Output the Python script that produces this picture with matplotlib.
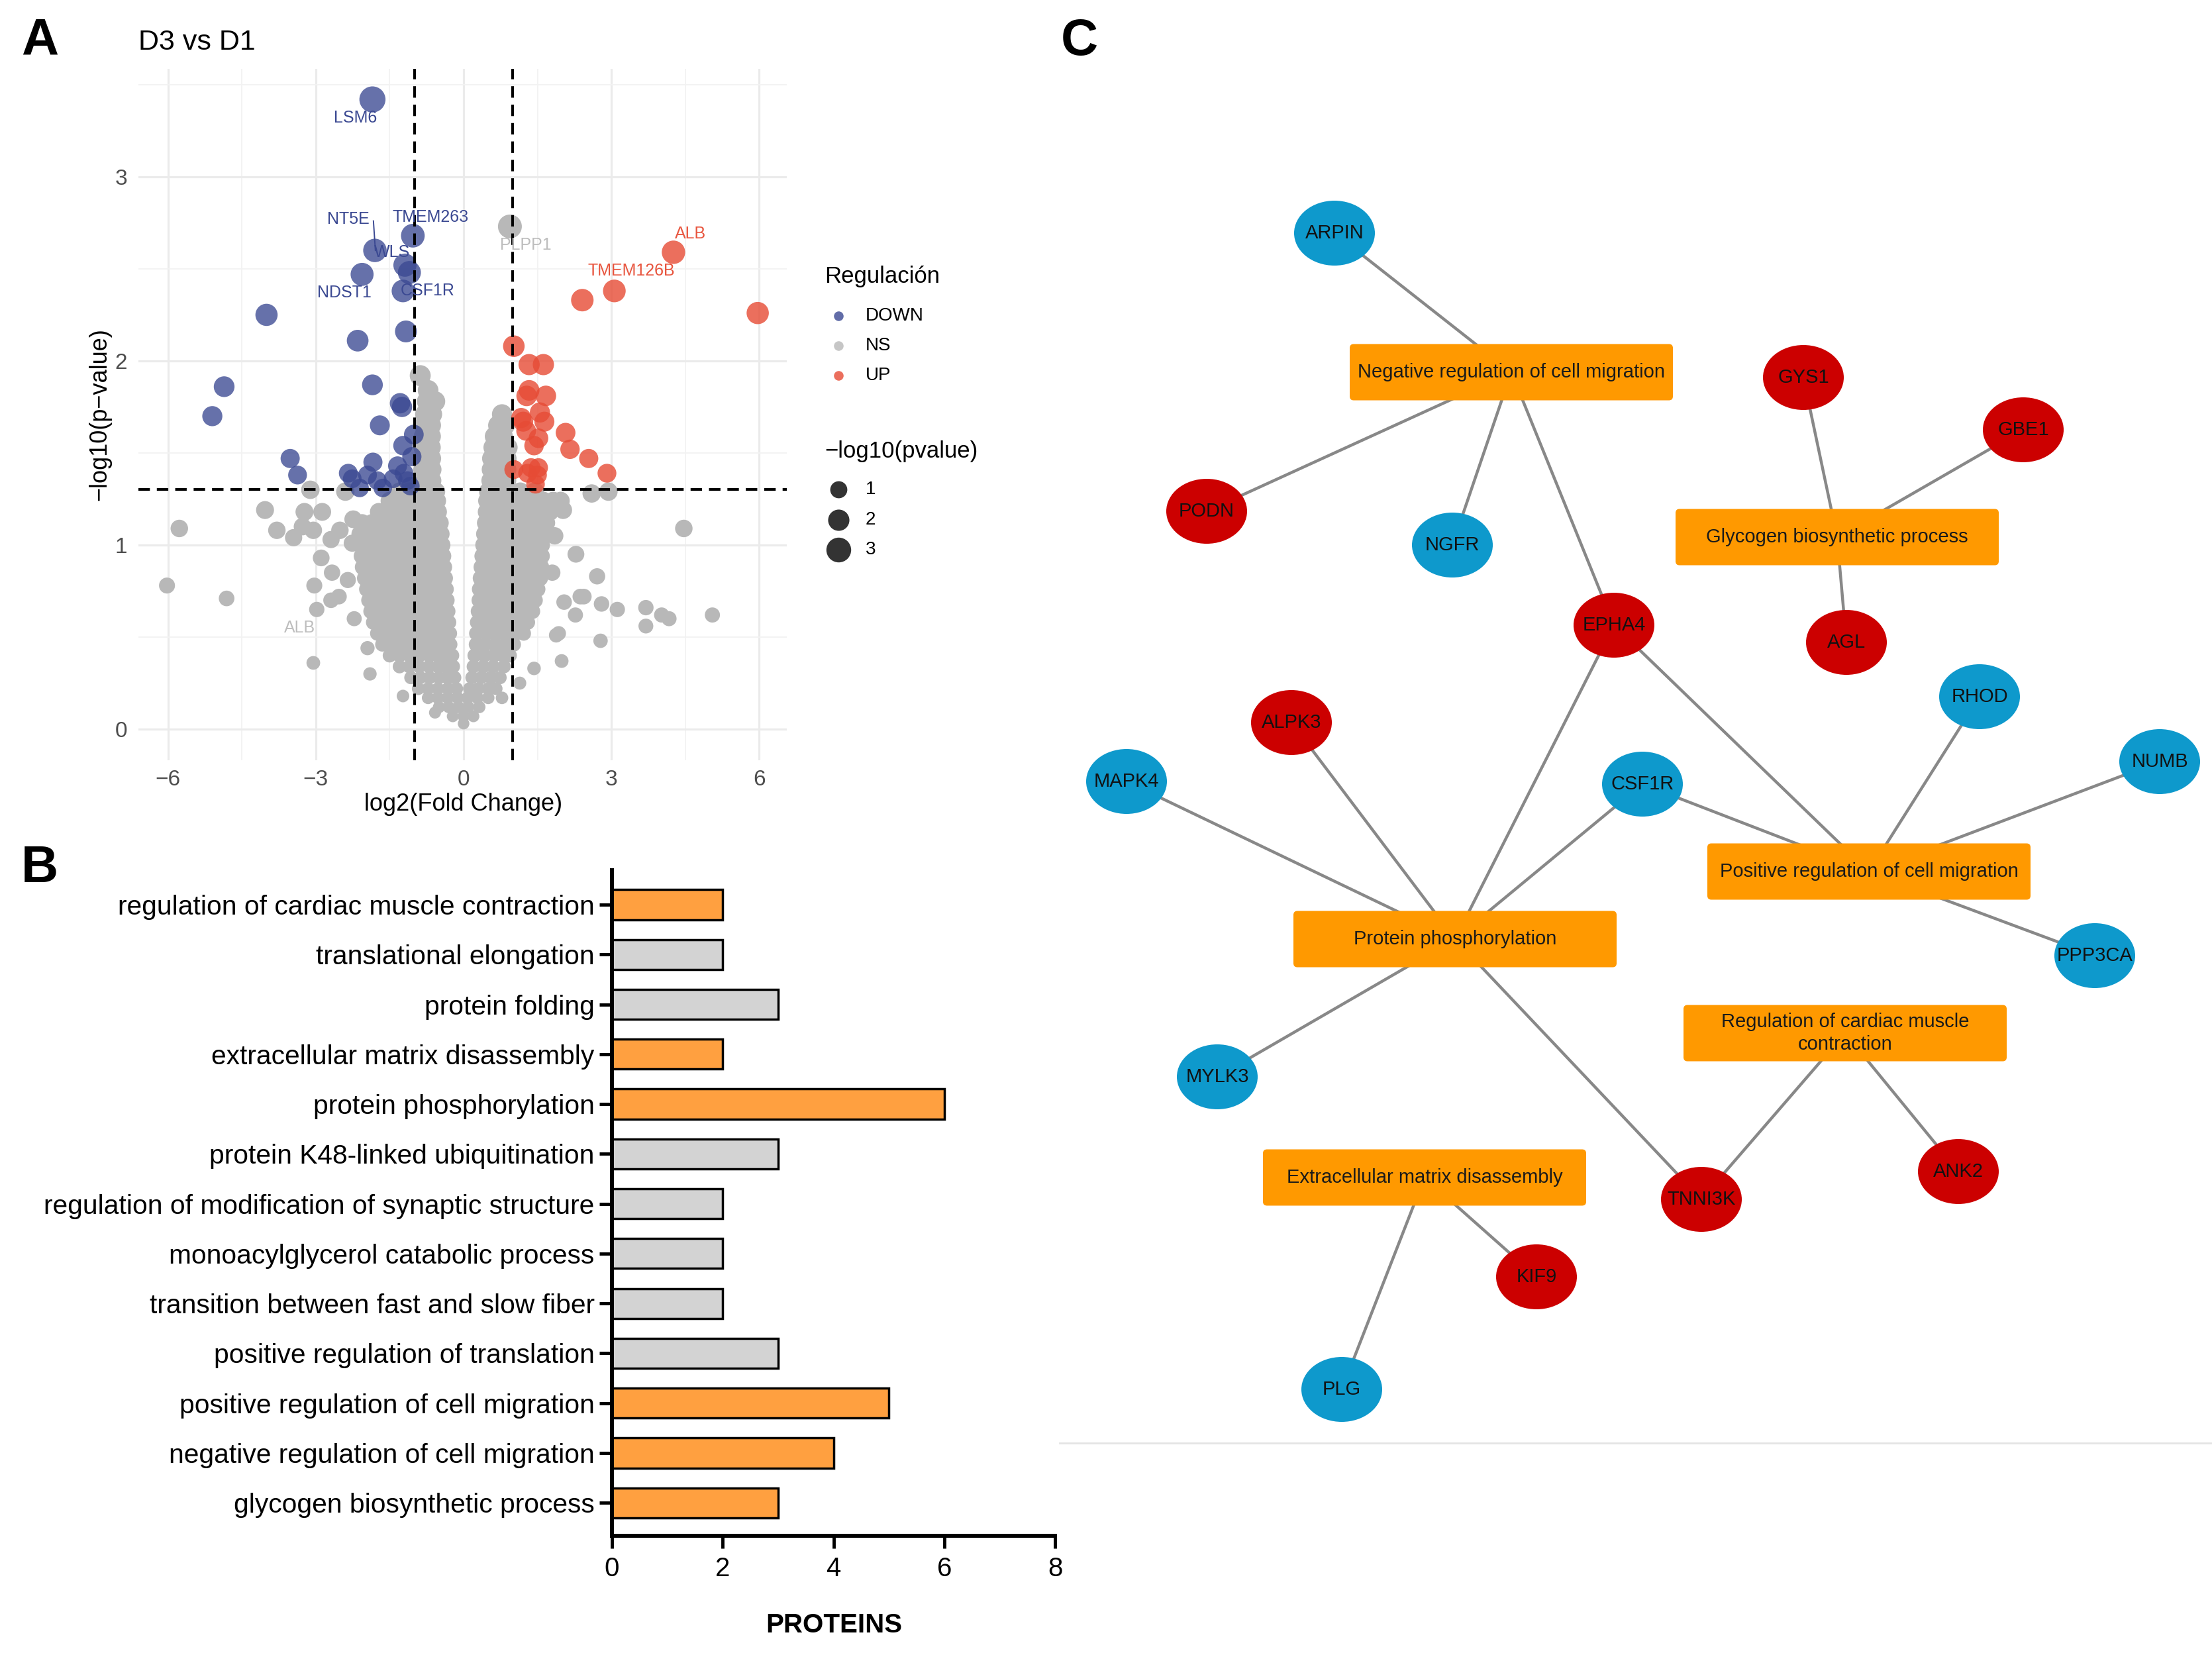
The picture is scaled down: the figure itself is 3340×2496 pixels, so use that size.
import numpy as np
import matplotlib
matplotlib.use("Agg")
import matplotlib.pyplot as plt
from matplotlib.patches import Ellipse, FancyBboxPatch

plt.rcParams['font.family'] = ['Liberation Sans', 'DejaVu Sans']

# ------------------------------------------------------------------ data: volcano
DOWN_X = [-1.85, -1.03, -1.80, -1.19, -1.10, -2.06, -1.23, -4.00, -1.17, -2.15,
          -4.86, -5.10, -1.85, -1.29, -1.25, -1.70, -1.01, -1.23, -1.05, -3.52,
          -3.37, -1.84, -2.34, -2.26, -1.95, -1.34, -1.21, -1.14, -1.75, -2.11,
          -1.64, -1.43, -1.08]
DOWN_Y = [3.42, 2.68, 2.60, 2.52, 2.48, 2.47, 2.38, 2.25, 2.16, 2.11,
          1.86, 1.70, 1.87, 1.77, 1.75, 1.65, 1.60, 1.54, 1.48, 1.47,
          1.38, 1.45, 1.39, 1.36, 1.38, 1.43, 1.39, 1.35, 1.35, 1.31,
          1.31, 1.36, 1.32]

UP_X = [4.26, 3.06, 2.41, 5.97, 1.02, 1.33, 1.62, 1.33, 1.28, 1.67, 1.55, 1.17,
        1.21, 1.64, 1.27, 1.52, 1.43, 2.07, 2.16, 2.54, 2.91, 1.37, 1.52, 1.30,
        1.50, 1.46, 1.02]
UP_Y = [2.59, 2.38, 2.33, 2.26, 2.08, 1.98, 1.98, 1.84, 1.81, 1.81, 1.72, 1.69,
        1.67, 1.67, 1.62, 1.58, 1.54, 1.61, 1.52, 1.47, 1.39, 1.42, 1.42, 1.39,
        1.38, 1.33, 1.41]

# isolated non-significant proteins
NS_SCATTER_X = [-6.02, -5.77, -4.81, -4.03, -3.79, -3.45, -3.27, -3.23, -3.11, -3.05,
                -2.87, -2.69, -2.51, -2.40, -2.26, -2.24, -2.89, -2.67, -3.03, -2.98,
                -2.69, -2.53, -3.05, -2.35, -2.22, -1.95, -1.90, -1.23, -0.58,
                4.47, 2.28, 2.71, 2.44, 2.04, 2.27, 2.80, 3.12, 3.70, 3.70, 4.02, 4.17,
                5.05, 2.78, 1.99, 1.88, 2.94, 2.60, 1.97, 2.02, 1.93, 2.37, 0.78, 1.14,
                1.43, 1.80, 1.85, 0.94]
NS_SCATTER_Y = [0.78, 1.09, 0.71, 1.19, 1.08, 1.04, 1.10, 1.18, 1.30, 1.08,
                1.18, 1.03, 1.08, 1.29, 1.01, 1.14, 0.93, 0.85, 0.78, 0.65,
                0.70, 0.72, 0.36, 0.81, 0.60, 0.44, 0.30, 0.18, 0.09,
                1.09, 0.95, 0.83, 0.72, 0.69, 0.62, 0.68, 0.65, 0.66, 0.56, 0.62, 0.60,
                0.62, 0.48, 0.37, 0.51, 1.29, 1.28, 1.24, 1.19, 0.52, 0.72, 0.17, 0.25,
                0.33, 0.85, 1.05, 2.73]

# dense V-shaped cloud of non-significant proteins, read row by row (y, [x ...])
NS_ROWS = [
    (0.03, [0.0]),
    (0.07, [-0.22, 0.0, 0.2]),
    (0.12, [-0.5, -0.3, -0.1, 0.1, 0.32]),
    (0.17, [-0.72, -0.52, -0.32, -0.12, 0.08, 0.28, 0.5]),
    (0.22, [-0.92, -0.72, -0.52, -0.32, -0.14, 0.12, 0.3, 0.5, 0.66]),
    (0.28, [-1.07, -0.88, -0.69, -0.5, -0.33, -0.18, 0.17, 0.36, 0.55, 0.74]),
    (0.34, [-1.3, -1.1, -0.9, -0.7, -0.52, -0.36, -0.21, 0.2, 0.4, 0.6, 0.82]),
    (0.40, [-1.5, -1.3, -1.1, -0.9, -0.7, -0.52, -0.37, -0.23, 0.22, 0.42, 0.62, 0.8, 0.94]),
    (0.46, [-1.65, -1.45, -1.25, -1.05, -0.85, -0.65, -0.47, -0.27, 0.25, 0.44, 0.64, 0.84, 1.02]),
    (0.52, [-1.75, -1.55, -1.35, -1.15, -0.95, -0.75, -0.55, -0.4, -0.28, 0.26, 0.46, 0.66, 0.86, 1.06, 1.22]),
    (0.58, [-1.83, -1.63, -1.43, -1.23, -1.03, -0.83, -0.63, -0.45, -0.3, 0.28, 0.48, 0.68, 0.88, 1.08, 1.3]),
    (0.64, [-1.88, -1.68, -1.48, -1.28, -1.08, -0.88, -0.68, -0.5, -0.32, 0.3, 0.5, 0.7, 0.9, 1.1, 1.3, 1.4]),
    (0.70, [-1.92, -1.72, -1.52, -1.32, -1.12, -0.92, -0.72, -0.52, -0.34, 0.32, 0.52, 0.72, 0.92, 1.12, 1.32, 1.45]),
    (0.76, [-1.96, -1.76, -1.56, -1.36, -1.16, -0.96, -0.76, -0.56, -0.36, 0.33, 0.53, 0.73, 0.93, 1.13, 1.33, 1.5]),
    (0.82, [-2.0, -1.8, -1.6, -1.4, -1.2, -1.0, -0.8, -0.6, -0.38, 0.35, 0.55, 0.75, 0.95, 1.15, 1.35, 1.55]),
    (0.88, [-2.04, -1.84, -1.64, -1.44, -1.24, -1.04, -0.84, -0.64, -0.4, 0.37, 0.57, 0.77, 0.97, 1.17, 1.37, 1.57]),
    (0.94, [-2.06, -1.86, -1.66, -1.46, -1.26, -1.06, -0.86, -0.64, -0.42, 0.39, 0.59, 0.79, 0.99, 1.19, 1.39, 1.58]),
    (1.00, [-2.08, -1.88, -1.68, -1.48, -1.28, -1.08, -0.88, -0.66, -0.44, 0.41, 0.61, 0.81, 1.01, 1.21, 1.41, 1.58]),
    (1.06, [-2.1, -1.9, -1.7, -1.5, -1.3, -1.1, -0.9, -0.68, -0.46, 0.43, 0.63, 0.83, 1.03, 1.23, 1.43, 1.62]),
    (1.12, [-2.06, -1.86, -1.66, -1.46, -1.26, -1.06, -0.86, -0.66, -0.48, 0.45, 0.65, 0.85, 1.05, 1.25, 1.45, 1.68]),
    (1.18, [-1.72, -1.52, -1.32, -1.12, -0.92, -0.72, -0.52, 0.47, 0.67, 0.87, 1.07, 1.27, 1.5, 1.75]),
    (1.24, [-1.5, -1.3, -1.1, -0.9, -0.72, -0.54, 0.48, 0.68, 0.88, 1.1, 1.35, 1.62, 1.82]),
    (1.29, [-1.3, -1.1, -0.9, -0.72, -0.56, 0.5, 0.7, 0.9, 1.15, 1.45]),
    (1.35, [-0.84, -0.64, 0.55, 0.72, 0.88]),
    (1.41, [-0.83, -0.64, 0.56, 0.72, 0.88]),
    (1.47, [-0.82, -0.65, 0.57, 0.73, 0.88]),
    (1.53, [-0.82, -0.66, 0.6, 0.76, 0.9]),
    (1.59, [-0.81, -0.66, 0.63, 0.8]),
    (1.65, [-0.8, -0.66, 0.7, 0.84]),
    (1.71, [-0.78, -0.64, 0.78]),
    (1.78, [-0.74, -0.58]),
    (1.84, [-0.72]),
    (1.92, [-0.88]),
]

GENE_LABELS = [  # (text, x, y, group)
    ("LSM6", -2.20, 3.32, "DOWN"),
    ("NT5E", -2.34, 2.77, "DOWN"),
    ("TMEM263", -0.67, 2.78, "DOWN"),
    ("WLS", -1.45, 2.59, "DOWN"),
    ("NDST1", -2.42, 2.37, "DOWN"),
    ("CSF1R", -0.73, 2.38, "DOWN"),
    ("PLPP1", 1.26, 2.63, "NS"),
    ("ALB", 4.61, 2.69, "UP"),
    ("TMEM126B", 3.41, 2.49, "UP"),
    ("ALB", -3.33, 0.55, "NS"),
]
NT5E_SEGMENT_X = [-1.83, -1.79]
NT5E_SEGMENT_Y = [2.76, 2.60]

X_TICKS = [-6, -3, 0, 3, 6]
Y_TICKS = [0, 1, 2, 3]
FC_CUT = 1.0
P_CUT = 1.301

# ------------------------------------------------------------------ data: bar chart
GO_TERMS = ["regulation of cardiac muscle contraction", "translational elongation",
            "protein folding", "extracellular matrix disassembly",
            "protein phosphorylation", "protein K48-linked ubiquitination",
            "regulation of modification of synaptic structure",
            "monoacylglycerol catabolic process", "transition between fast and slow fiber",
            "positive regulation of translation", "positive regulation of cell migration",
            "negative regulation of cell migration", "glycogen biosynthetic process"]
GO_COUNTS = [2, 2, 3, 2, 6, 3, 2, 2, 2, 3, 5, 4, 3]
GO_HIGHLIGHT = [True, False, False, True, True, False, False, False, False, False,
                True, True, True]
BAR_TICKS = [0, 2, 4, 6, 8]

# ------------------------------------------------------------------ data: network
GENE_NODES = {  # name: (x, y, regulation) in layout pixels
    "ARPIN": (2015, 352, "down"), "GYS1": (2723, 570, "up"), "GBE1": (3055, 649, "up"),
    "PODN": (1822, 772, "up"), "NGFR": (2193, 823, "down"), "EPHA4": (2437, 944, "up"),
    "AGL": (2788, 970, "up"), "RHOD": (2989, 1052, "down"), "ALPK3": (1950, 1091, "up"),
    "NUMB": (3261, 1150, "down"), "MAPK4": (1701, 1180, "down"),
    "CSF1R": (2480, 1184, "down"), "PPP3CA": (3163, 1443, "down"),
    "MYLK3": (1838, 1626, "down"), "ANK2": (2957, 1769, "up"),
    "TNNI3K": (2569, 1811, "up"), "KIF9": (2320, 1928, "up"), "PLG": (2026, 2098, "down"),
}
TERM_NODES = {
    "NEG": (2282, 562, "Negative regulation of cell migration"),
    "GLY": (2774, 811, "Glycogen biosynthetic process"),
    "POS": (2822, 1316, "Positive regulation of cell migration"),
    "PHOS": (2197, 1418, "Protein phosphorylation"),
    "CARD": (2786, 1560, "Regulation of cardiac muscle\ncontraction"),
    "ECM": (2151, 1778, "Extracellular matrix disassembly"),
}
EDGES = [("ARPIN", "NEG"), ("PODN", "NEG"), ("NGFR", "NEG"), ("EPHA4", "NEG"),
         ("GYS1", "GLY"), ("GBE1", "GLY"), ("AGL", "GLY"),
         ("EPHA4", "PHOS"), ("ALPK3", "PHOS"), ("MAPK4", "PHOS"), ("CSF1R", "PHOS"),
         ("MYLK3", "PHOS"), ("TNNI3K", "PHOS"),
         ("EPHA4", "POS"), ("CSF1R", "POS"), ("RHOD", "POS"), ("NUMB", "POS"),
         ("PPP3CA", "POS"), ("TNNI3K", "CARD"), ("ANK2", "CARD"),
         ("KIF9", "ECM"), ("PLG", "ECM")]

# ------------------------------------------------------------------ styles
W, H, DPI = 3340, 2496, 100
COL = {"DOWN": "#3B4992", "NS": "#B8B8B8", "UP": "#E64B35"}
TXT_COL = {"DOWN": "#3B4992", "NS": "#BDBDBD", "UP": "#E8553E"}
NODE_COL = {"up": "#CC0000", "down": "#0E99CC"}
BOX_COL = "#FF9900"
BAR_ORANGE, BAR_GRAY = "#FFA040", "#D3D3D3"


def area(v):
    """ggplot-like size scale: pixel radius^2 linear in -log10(p)."""
    r2 = 74.0 + 92.0 * np.asarray(v, dtype=float)
    return (2 * 0.72) ** 2 * r2


fig = plt.figure(figsize=(W / DPI, H / DPI), dpi=DPI)
fig.patch.set_facecolor("white")


def px_axes(x0, y0, x1, y1):
    return fig.add_axes([x0 / W, 1 - y1 / H, (x1 - x0) / W, (y1 - y0) / H])


# overlay in pixel units for panel letters, legend, network
ov = fig.add_axes([0, 0, 1, 1])
ov.set_xlim(0, W)
ov.set_ylim(H, 0)
ov.axis("off")

# ------------------------------------------------------------------ panel A
ax = px_axes(209, 104, 1188, 1148)
ax.set_xlim(-6.6, 6.56)
ax.set_ylim(-0.169, 3.586)
for s in ax.spines.values():
    s.set_visible(False)
ax.set_xticks(X_TICKS)
ax.set_yticks(Y_TICKS)
ax.set_xticks([-4.5, -1.5, 1.5, 4.5], minor=True)
ax.set_yticks([0.5, 1.5, 2.5, 3.5], minor=True)
ax.grid(which="major", color="#EBEBEB", lw=2.3)
ax.grid(which="minor", color="#F2F2F2", lw=1.3)
ax.set_axisbelow(True)
ax.tick_params(which="both", length=0)
ax.tick_params(axis="x", labelsize=24, labelcolor="#4D4D4D", pad=10)
ax.tick_params(axis="y", labelsize=24, labelcolor="#4D4D4D", pad=12)

ns_x = list(NS_SCATTER_X)
ns_y = list(NS_SCATTER_Y)
for yy, xs in NS_ROWS:
    ns_x += xs
    ns_y += [yy] * len(xs)
ax.scatter(ns_x, ns_y, s=area(ns_y), color=COL["NS"], linewidths=0, zorder=2)
ax.scatter(DOWN_X, DOWN_Y, s=area(DOWN_Y), color=COL["DOWN"], alpha=0.78, linewidths=0, zorder=3)
ax.scatter(UP_X, UP_Y, s=area(UP_Y), color=COL["UP"], alpha=0.8, linewidths=0, zorder=3)

dash = (0, (4.3, 2.6))
ax.axvline(-FC_CUT, color="black", lw=2.9, ls=dash, zorder=4)
ax.axvline(FC_CUT, color="black", lw=2.9, ls=dash, zorder=4)
ax.axhline(P_CUT, color="black", lw=2.9, ls=dash, zorder=4)

for txt, x, y, g in GENE_LABELS:
    ax.text(x, y, txt, color=TXT_COL[g], fontsize=18, ha="center", va="center", zorder=5)
ax.plot(NT5E_SEGMENT_X, NT5E_SEGMENT_Y, color=COL["DOWN"], lw=1.4, zorder=5)

ov.text(60, 62, "A", fontsize=56, fontweight="bold", ha="center", va="center")
ov.text(209, 64, "D3 vs D1", fontsize=31, ha="left", va="center")
ov.text(700, 1215, "log2(Fold Change)", fontsize=26, ha="center", va="center")
ov.text(151, 626, "\u2212log10(p\u2212value)", fontsize=26, ha="center", va="center",
        rotation=90)

# legend
ov.text(1245, 418, "Regulación", fontsize=25, ha="left", va="center")
for i, g in enumerate(["DOWN", "NS", "UP"]):
    yy = 477 + 45 * i
    ov.scatter([1266], [yy], s=110, color=COL[g], alpha=0.8, linewidths=0)
    ov.text(1307, yy, g, fontsize=20, ha="left", va="center")
ov.text(1245, 682, "\u2212log10(pvalue)", fontsize=25, ha="left", va="center")
for i, v in enumerate([1, 2, 3]):
    yy = [739, 785, 830][i]
    ov.scatter([1266], [yy], s=area(v), color="#333333", linewidths=0)
    ov.text(1307, yy, str(v), fontsize=20, ha="left", va="center")

# ------------------------------------------------------------------ panel B
axb = px_axes(924, 1314, 1593, 2319)
pos = np.arange(len(GO_TERMS))
colors = [BAR_ORANGE if h else BAR_GRAY for h in GO_HIGHLIGHT]
axb.barh(pos, GO_COUNTS, height=0.6, color=colors, edgecolor="black", linewidth=2.5,
         zorder=2)
axb.set_xlim(0, 8)
axb.set_ylim(len(GO_TERMS) - 0.34, -0.69)
axb.set_yticks(pos)
axb.set_yticklabels(GO_TERMS, fontsize=29.3)
axb.set_xticks(BAR_TICKS)
axb.tick_params(axis="y", length=14, width=3.5, pad=5)
axb.tick_params(axis="x", length=14, width=3.5, pad=8, labelsize=29)
for side in ["top", "right"]:
    axb.spines[side].set_visible(False)
for side in ["left", "bottom"]:
    axb.spines[side].set_linewidth(4.3)
axb.patch.set_alpha(0)
ov.text(60, 1312, "B", fontsize=56, fontweight="bold", ha="center", va="center")
ov.text(1259, 2454, "PROTEINS", fontsize=29, fontweight="bold", ha="center", va="center")

# ------------------------------------------------------------------ panel C
ov.text(1630, 62, "C", fontsize=56, fontweight="bold", ha="center", va="center")


def node_xy(n):
    if n in GENE_NODES:
        return GENE_NODES[n][:2]
    return TERM_NODES[n][:2]


for a, b in EDGES:
    (x0, y0), (x1, y1) = node_xy(a), node_xy(b)
    ov.plot([x0, x1], [y0, y1], color="#888888", lw=3.2, zorder=1,
            solid_capstyle="butt")

BOX_W, BOX_H = 488, 85
for key, (x, y, label) in TERM_NODES.items():
    ov.add_patch(FancyBboxPatch((x - BOX_W / 2 + 6, y - BOX_H / 2 + 6), BOX_W - 12, BOX_H - 12,
                                boxstyle="round,pad=6", facecolor=BOX_COL,
                                edgecolor="none", zorder=2))
    ov.text(x, y, label, fontsize=21, ha="center", va="center", color="#1A1A1A",
            zorder=3, linespacing=1.25)

for name, (x, y, reg) in GENE_NODES.items():
    ov.add_patch(Ellipse((x, y), 122, 98, facecolor=NODE_COL[reg], edgecolor="none",
                         zorder=2))
    ov.text(x, y, name, fontsize=21, ha="center", va="center", color="#111111", zorder=3)

ov.plot([1600, W], [2179, 2179], color="#E4E4E4", lw=2.0, zorder=0)

fig.savefig("out.png", dpi=DPI, facecolor="white")
